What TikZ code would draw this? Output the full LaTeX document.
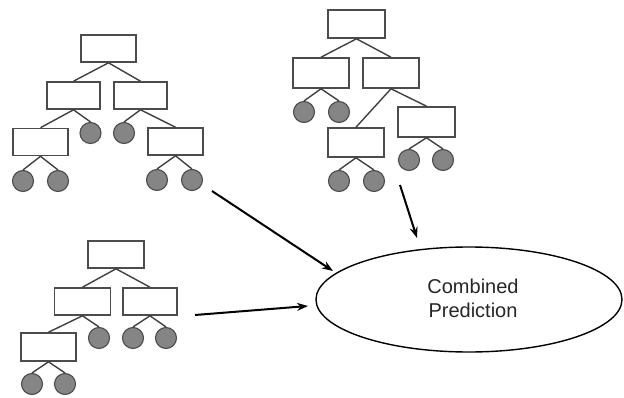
\documentclass[tikz,border=0pt]{standalone}
\usepackage{fontspec}
\setmainfont{Liberation Sans}
\usetikzlibrary{arrows.meta,shapes.geometric}
\tikzset{
  box/.style={draw=black!70, line width=1.6pt, fill=white, minimum width=55pt, minimum height=27pt, inner sep=0pt},
  leaf/.style={circle, draw=black!70, line width=1.1pt, fill=black!48, minimum size=21pt, inner sep=0pt},
  edge/.style={draw=black!75, line width=1.4pt},
  arr/.style={draw=black, line width=2pt, -{Stealth[length=11pt,width=8pt]}},
}
\begin{document}
\begin{tikzpicture}[x=1pt,y=-1pt]
\useasboundingbox (0,0) rectangle (624,398);
% Tree 1
\node[box] (t1r) at (108.5,48.5) {};
\node[box, minimum width=53pt] (t1a) at (73.5,95.5) {};
\node[box, minimum width=53pt] (t1b) at (140.5,95.5) {};
\node[box] (t1c) at (40.5,142) {};
\node[leaf] (t1l1) at (90.5,133) {};
\node[leaf] (t1l2) at (124,133) {};
\node[box] (t1d) at (175.5,141.5) {};
\node[leaf] (t1c1) at (23,181) {};
\node[leaf] (t1c2) at (58,181) {};
\node[leaf] (t1d1) at (157,180) {};
\node[leaf] (t1d2) at (192,180) {};
\draw[edge] (t1r.south) -- (t1a.north);
\draw[edge] (t1r.south) -- (t1b.north);
\draw[edge] (t1a.south) -- (t1c.north);
\draw[edge] (t1a.south) -- (t1l1.north);
\draw[edge] (t1b.south) -- (t1l2.north);
\draw[edge] (t1b.south) -- (t1d.north);
\draw[edge] (t1c.south) -- (t1c1.north);
\draw[edge] (t1c.south) -- (t1c2.north);
\draw[edge] (t1d.south) -- (t1d1.north);
\draw[edge] (t1d.south) -- (t1d2.north);
% Tree 2
\node[box, minimum width=57pt, minimum height=28pt] (t2r) at (356.5,24) {};
\node[box, minimum width=56pt, minimum height=30pt] (t2a) at (321,73) {};
\node[box, minimum width=56pt, minimum height=30pt] (t2b) at (391,73) {};
\node[leaf] (t2a1) at (304,112) {};
\node[leaf] (t2a2) at (339,112) {};
\node[box, minimum width=56pt, minimum height=29pt] (t2c) at (356,142.5) {};
\node[box, minimum width=57pt, minimum height=30pt] (t2d) at (426.5,122) {};
\node[leaf] (t2d1) at (409,160) {};
\node[leaf] (t2d2) at (443,160) {};
\node[leaf] (t2c1) at (339,181) {};
\node[leaf] (t2c2) at (374,181) {};
\draw[edge] (t2r.south) -- (t2a.north);
\draw[edge] (t2r.south) -- (t2b.north);
\draw[edge] (t2a.south) -- (t2a1.north);
\draw[edge] (t2a.south) -- (t2a2.north);
\draw[edge] (t2b.south) -- (t2c.north);
\draw[edge] (t2b.south) -- (t2d.north);
\draw[edge] (t2d.south) -- (t2d1.north);
\draw[edge] (t2d.south) -- (t2d2.north);
\draw[edge] (t2c.south) -- (t2c1.north);
\draw[edge] (t2c.south) -- (t2c2.north);
% Tree 3
\node[box, minimum width=56pt] (t3r) at (116,254.5) {};
\node[box, minimum width=56pt] (t3a) at (82.5,301.5) {};
\node[box, minimum width=54pt] (t3b) at (150,301.5) {};
\node[box, minimum width=55pt, minimum height=28pt] (t3c) at (48.5,347) {};
\node[leaf] (t3a1) at (99,338) {};
\node[leaf] (t3b1) at (133,338) {};
\node[leaf] (t3b2) at (166,338) {};
\node[leaf] (t3c1) at (32,384) {};
\node[leaf] (t3c2) at (65,384) {};
\draw[edge] (t3r.south) -- (t3a.north);
\draw[edge] (t3r.south) -- (t3b.north);
\draw[edge] (t3a.south) -- (t3c.north);
\draw[edge] (t3a.south) -- (t3a1.north);
\draw[edge] (t3b.south) -- (t3b1.north);
\draw[edge] (t3b.south) -- (t3b2.north);
\draw[edge] (t3c.south) -- (t3c1.north);
\draw[edge] (t3c.south) -- (t3c2.north);
% Combined prediction
\node[ellipse, draw=black, line width=1.4pt, minimum width=306pt, minimum height=105pt, inner sep=0pt] (pred) at (469,299.5) {};
\node[align=center, font=\fontsize{20}{24}\selectfont, text=black!85] (ptext) at (473,298) {Combined\\Prediction};
% Arrows
\coordinate (s1) at (212,191);
\coordinate (e1) at (333,271);
\coordinate (s2) at (400,185);
\coordinate (e2) at (417,238);
\coordinate (s3) at (195,315);
\coordinate (e3) at (308,306);
\draw[arr] (s1) -- (e1);
\draw[arr] (s2) -- (e2);
\draw[arr] (s3) -- (e3);
\end{tikzpicture}
\end{document}
